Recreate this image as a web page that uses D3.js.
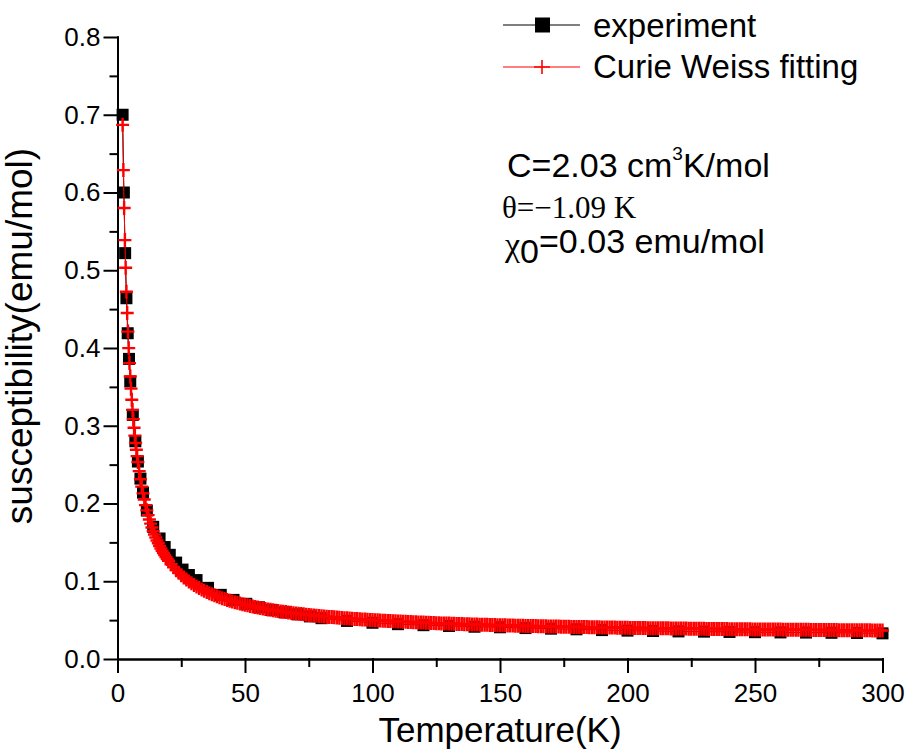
<!DOCTYPE html>
<html>
<head>
<meta charset="utf-8">
<script src="https://cdn.jsdelivr.net/npm/d3@7"></script>
<style>
    body { margin: 0; background: #ffffff; }
</style>
<script>
// experiment (black squares)
const expT = [2, 2.5, 3, 3.5, 4, 4.5, 5, 6, 7, 8, 9, 10,
              11.5, 14, 16.5, 18.5, 20.5, 23, 25.5, 28, 31, 35.5, 40.5, 45.5, 50.5, 55.5, 60.5, 65.5, 70.5, 75.5, 80,
              90, 100, 110, 120, 130, 140, 150, 160, 170, 180, 190, 200, 210, 220, 230, 240, 250, 260, 270, 280, 290, 300];
const expChi = [0.700, 0.600, 0.522, 0.464, 0.419, 0.386, 0.357, 0.314, 0.280, 0.254, 0.232, 0.214,
                0.191, 0.170, 0.155, 0.144, 0.134, 0.124, 0.115, 0.108, 0.1015, 0.0915, 0.0825, 0.0760, 0.0710, 0.0665, 0.0630, 0.0600, 0.0575, 0.0548, 0.0525,
                0.0490, 0.0466, 0.0448, 0.0435, 0.0425, 0.0415, 0.0408, 0.0398, 0.0390, 0.0382, 0.0372, 0.0365, 0.0360, 0.0355, 0.0352, 0.0348, 0.0345, 0.0342, 0.0340, 0.0337, 0.0335, 0.0330];

// Curie Weiss fitting (red crosses)
const fitT = [2.0, 2.3, 2.6, 2.9, 3.2, 3.5, 3.8, 4.1, 4.4, 4.7, 5.0, 5.3, 5.6, 5.9, 6.2, 6.5, 6.8, 7.1, 7.4, 7.7, 8.0,
              8.5, 9, 9.5, 10, 10.5, 11, 11.5, 12, 12.5, 13, 13.5, 14, 14.5, 15, 15.5, 16, 16.5, 17, 17.5, 18, 18.5, 19, 19.5, 20,
              21, 22, 23, 24, 25, 26, 27, 28, 29, 30,
              31, 32, 33, 34, 35, 36, 37, 38, 39, 40,
              41, 42, 43, 44, 45, 46, 47, 48, 49, 50,
              51, 52, 53, 54, 55, 56, 57, 58, 59, 60,
              61, 62, 63, 64, 65, 66, 67, 68, 69, 70,
              71, 72, 73, 74, 75, 76, 77, 78, 79, 80,
              81, 82, 83, 84, 85, 86, 87, 88, 89, 90,
              91, 92, 93, 94, 95, 96, 97, 98, 99, 100,
              101, 102, 103, 104, 105, 106, 107, 108, 109, 110,
              111, 112, 113, 114, 115, 116, 117, 118, 119, 120,
              121, 122, 123, 124, 125, 126, 127, 128, 129, 130,
              131, 132, 133, 134, 135, 136, 137, 138, 139, 140,
              141, 142, 143, 144, 145, 146, 147, 148, 149, 150,
              151, 152, 153, 154, 155, 156, 157, 158, 159, 160,
              161, 162, 163, 164, 165, 166, 167, 168, 169, 170,
              171, 172, 173, 174, 175, 176, 177, 178, 179, 180,
              181, 182, 183, 184, 185, 186, 187, 188, 189, 190,
              191, 192, 193, 194, 195, 196, 197, 198, 199, 200,
              201, 202, 203, 204, 205, 206, 207, 208, 209, 210,
              211, 212, 213, 214, 215, 216, 217, 218, 219, 220,
              221, 222, 223, 224, 225, 226, 227, 228, 229, 230,
              231, 232, 233, 234, 235, 236, 237, 238, 239, 240,
              241, 242, 243, 244, 245, 246, 247, 248, 249, 250,
              251, 252, 253, 254, 255, 256, 257, 258, 259, 260,
              261, 262, 263, 264, 265, 266, 267, 268, 269, 270,
              271, 272, 273, 274, 275, 276, 277, 278, 279, 280,
              281, 282, 283, 284, 285, 286, 287, 288, 289, 290,
              291, 292, 293, 294, 295, 296, 297, 298, 299, 300];
const fitChi = [0.6870, 0.6288, 0.5801, 0.5388, 0.5032, 0.4723, 0.4451, 0.4211, 0.3998, 0.3806, 0.3633, 0.3477, 0.3334, 0.3204, 0.3085, 0.2975, 0.2873, 0.2779, 0.2691, 0.2609, 0.2533,
                0.2417, 0.2312, 0.2217, 0.2130, 0.2052, 0.1979, 0.1912, 0.1851, 0.1794, 0.1741, 0.1691, 0.1645, 0.1602, 0.1562, 0.1524, 0.1488, 0.1454, 0.1422, 0.1392, 0.1363, 0.1336, 0.1310, 0.1286, 0.1263,
                0.1219, 0.1179, 0.1143, 0.1109, 0.1078, 0.1049, 0.1023, 0.0998, 0.0975, 0.0953,
                0.0933, 0.0913, 0.0895, 0.0879, 0.0862, 0.0847, 0.0833, 0.0819, 0.0806, 0.0794,
                0.0782, 0.0771, 0.0760, 0.0750, 0.0740, 0.0731, 0.0722, 0.0714, 0.0705, 0.0697,
                0.0690, 0.0682, 0.0675, 0.0669, 0.0662, 0.0656, 0.0649, 0.0644, 0.0638, 0.0632,
                0.0627, 0.0622, 0.0617, 0.0612, 0.0607, 0.0603, 0.0598, 0.0594, 0.0590, 0.0586,
                0.0582, 0.0578, 0.0574, 0.0570, 0.0567, 0.0563, 0.0560, 0.0557, 0.0553, 0.0550,
                0.0547, 0.0544, 0.0541, 0.0539, 0.0536, 0.0533, 0.0530, 0.0528, 0.0525, 0.0523,
                0.0520, 0.0518, 0.0516, 0.0513, 0.0511, 0.0509, 0.0507, 0.0505, 0.0503, 0.0501,
                0.0499, 0.0497, 0.0495, 0.0493, 0.0491, 0.0490, 0.0488, 0.0486, 0.0484, 0.0483,
                0.0481, 0.0480, 0.0478, 0.0476, 0.0475, 0.0473, 0.0472, 0.0470, 0.0469, 0.0468,
                0.0466, 0.0465, 0.0464, 0.0462, 0.0461, 0.0460, 0.0458, 0.0457, 0.0456, 0.0455,
                0.0454, 0.0453, 0.0451, 0.0450, 0.0449, 0.0448, 0.0447, 0.0446, 0.0445, 0.0444,
                0.0443, 0.0442, 0.0441, 0.0440, 0.0439, 0.0438, 0.0437, 0.0436, 0.0435, 0.0434,
                0.0433, 0.0433, 0.0432, 0.0431, 0.0430, 0.0429, 0.0428, 0.0428, 0.0427, 0.0426,
                0.0425, 0.0424, 0.0424, 0.0423, 0.0422, 0.0421, 0.0421, 0.0420, 0.0419, 0.0419,
                0.0418, 0.0417, 0.0417, 0.0416, 0.0415, 0.0415, 0.0414, 0.0413, 0.0413, 0.0412,
                0.0411, 0.0411, 0.0410, 0.0410, 0.0409, 0.0409, 0.0408, 0.0407, 0.0407, 0.0406,
                0.0406, 0.0405, 0.0405, 0.0404, 0.0404, 0.0403, 0.0402, 0.0402, 0.0401, 0.0401,
                0.0400, 0.0400, 0.0399, 0.0399, 0.0398, 0.0398, 0.0398, 0.0397, 0.0397, 0.0396,
                0.0396, 0.0395, 0.0395, 0.0394, 0.0394, 0.0394, 0.0393, 0.0393, 0.0392, 0.0392,
                0.0391, 0.0391, 0.0391, 0.0390, 0.0390, 0.0389, 0.0389, 0.0389, 0.0388, 0.0388,
                0.0387, 0.0387, 0.0387, 0.0386, 0.0386, 0.0386, 0.0385, 0.0385, 0.0385, 0.0384,
                0.0384, 0.0384, 0.0383, 0.0383, 0.0383, 0.0382, 0.0382, 0.0382, 0.0381, 0.0381,
                0.0381, 0.0380, 0.0380, 0.0380, 0.0379, 0.0379, 0.0379, 0.0378, 0.0378, 0.0378,
                0.0377, 0.0377, 0.0377, 0.0377, 0.0376, 0.0376, 0.0376, 0.0375, 0.0375, 0.0375,
                0.0375, 0.0374, 0.0374, 0.0374, 0.0374, 0.0373, 0.0373, 0.0373, 0.0372, 0.0372,
                0.0372, 0.0372, 0.0371, 0.0371, 0.0371, 0.0371, 0.0370, 0.0370, 0.0370, 0.0370,
                0.0370, 0.0369, 0.0369, 0.0369, 0.0369, 0.0368, 0.0368, 0.0368, 0.0368, 0.0367];

// ticks
const xMajor = [0, 50, 100, 150, 200, 250, 300];
const xMinor = [25, 75, 125, 175, 225, 275];
const yMajor = [0.0, 0.1, 0.2, 0.3, 0.4, 0.5, 0.6, 0.7, 0.8];
const yMinor = [0.05, 0.15, 0.25, 0.35, 0.45, 0.55, 0.65, 0.75];

const seriesNames = ["experiment", "Curie Weiss fitting"];

function makeSVG() {

    const sans = "'Liberation Sans', Arial, sans-serif";
    const serif = "'Liberation Serif', 'Times New Roman', serif";

    const svg = d3.select("#fig");

    const x = d3.scaleLinear().domain([0, 300]).range([117.5, 882.5]);
    const y = d3.scaleLinear().domain([0, 0.8]).range([659, 37]);

    // Axes

    const gx = svg.append("g").attr("transform", "translate(0,659)");
    gx.call(d3.axisBottom(x).tickValues(xMajor).tickSize(13).tickSizeOuter(0).tickPadding(12).tickFormat(d3.format("d")));
    gx.call(g => g.append("g").call(d3.axisBottom(x).tickValues(xMinor).tickSize(7).tickSizeOuter(0).tickFormat("")));

    const gy = svg.append("g").attr("transform", "translate(117.5,0)");
    gy.call(d3.axisLeft(y).tickValues(yMajor).tickSize(13).tickSizeOuter(0).tickPadding(4).tickFormat(d3.format(".1f")));
    gy.call(g => g.append("g").call(d3.axisLeft(y).tickValues(yMinor).tickSize(7).tickSizeOuter(0).tickFormat("")));

    svg.selectAll(".domain, .tick line")
       .attr("stroke", "#000")
       .attr("stroke-width", 2)
       .attr("stroke-linecap", "square");
    svg.selectAll(".tick text")
       .attr("font-size", 26)
       .attr("font-family", sans)
       .attr("fill", "#000");

    // Axis titles

    svg.append("text")
       .attr("x", 500).attr("y", 742)
       .attr("text-anchor", "middle")
       .attr("font-size", 35).attr("font-family", sans)
       .text("Temperature(K)");

    svg.append("text")
       .attr("transform", "translate(32,336) rotate(-90)")
       .attr("text-anchor", "middle")
       .attr("font-size", 37).attr("font-family", sans)
       .text("susceptibility(emu/mol)");

    // Experiment

    const idxE = d3.range(expT.length);
    const lineE = d3.line().x(i => x(expT[i])).y(i => y(expChi[i]));

    svg.append("path")
       .attr("d", lineE(idxE))
       .attr("fill", "none")
       .attr("stroke", "#000")
       .attr("stroke-width", 1);

    svg.append("g").selectAll("rect").data(idxE)
       .enter()
       .append("rect")
       .attr("x", i => x(expT[i]) - 6)
       .attr("y", i => y(expChi[i]) - 6)
       .attr("width", 12)
       .attr("height", 12)
       .attr("fill", "#000");

    // Curie Weiss fitting

    const idxF = d3.range(fitT.length);
    const lineF = d3.line().x(i => x(fitT[i])).y(i => y(fitChi[i]));

    svg.append("path")
       .attr("d", lineF(idxF))
       .attr("fill", "none")
       .attr("stroke", "#ff0000")
       .attr("stroke-width", 1);

    svg.append("g").selectAll("path").data(idxF)
       .enter()
       .append("path")
       .attr("transform", i => "translate(" + x(fitT[i]) + "," + y(fitChi[i]) + ")")
       .attr("d", "M-6.5,0H6.5M0,-7V7")
       .attr("stroke", "#ff0000")
       .attr("stroke-width", 2.4);

    // Legend

    const lg = svg.append("g");
    lg.append("line").attr("x1", 503).attr("x2", 580).attr("y1", 25).attr("y2", 25)
      .attr("stroke", "#000").attr("stroke-width", 1);
    lg.append("rect").attr("x", 535).attr("y", 17.5).attr("width", 15).attr("height", 15).attr("fill", "#000");
    lg.append("line").attr("x1", 503).attr("x2", 580).attr("y1", 67).attr("y2", 67)
      .attr("stroke", "#ff0000").attr("stroke-width", 1);
    lg.append("path").attr("transform", "translate(542,67)").attr("d", "M-8,0H8M0,-7V7")
      .attr("stroke", "#ff0000").attr("stroke-width", 1.6);
    lg.selectAll("text").data(seriesNames)
      .enter()
      .append("text")
      .attr("x", 593)
      .attr("y", (d, i) => i === 0 ? 37 : 78)
      .attr("font-size", 33).attr("font-family", sans)
      .text(d => d);

    // Fit parameters

    const t1 = svg.append("text").attr("x", 507).attr("y", 177)
                  .attr("font-size", 34).attr("font-family", sans);
    t1.append("tspan").text("C=2.03 cm");
    t1.append("tspan").attr("font-size", 19).attr("dy", -17).text("3");
    t1.append("tspan").attr("dy", 17).text("K/mol");

    svg.append("text").attr("x", 502).attr("y", 218)
       .attr("font-size", 31).attr("font-family", serif)
       .text("\u03b8=\u22121.09 K");

    const t3 = svg.append("text").attr("x", 505).attr("y", 256)
                  .attr("font-size", 34).attr("font-family", sans);
    t3.append("tspan").attr("font-family", serif).text("\u03c7");
    t3.append("tspan").attr("dy", 7).text("0");
    t3.append("tspan").attr("dy", -10).text("=0.03 emu/mol");
}
</script>
</head>
<body onload="makeSVG()">
    <svg id="fig" width="909" height="755"></svg>
</body>
</html>
